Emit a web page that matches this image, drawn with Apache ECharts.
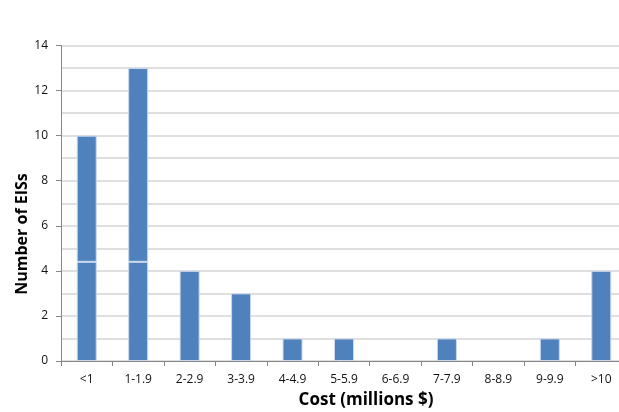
<!DOCTYPE html>
<html>
<head>
<meta charset="utf-8">
<script src="https://cdn.jsdelivr.net/npm/echarts@6/dist/echarts.min.js"></script>
<style>
  html, body { margin: 0; padding: 0; background: #fff; }
  #chart { width: 619px; height: 412px; }
</style>
</head>
<body>
<div id="chart"></div>
<script>
// Cost bins of the environmental impact statements
const costBins = ['<1', '1-1.9', '2-2.9', '3-3.9', '4-4.9', '5-5.9', '6-6.9', '7-7.9', '8-8.9', '9-9.9', '>10'];
// Number of EISs in each cost bin
const eisCounts = [10, 13, 4, 3, 1, 1, 0, 1, 0, 1, 4];
// Height where the two tallest bars show a segment seam
const seamLevel = 4.4;
// Value-axis range and label step
const yMin = 0;
const yMax = 14;
const yStep = 2;

// Empty segments are left out so they draw nothing
const lowerPart = eisCounts.map(v => (v > 0 ? Math.min(v, seamLevel) : null));
const upperPart = eisCounts.map(v => (v > seamLevel ? v - seamLevel : null));

const FONT = 'Open Sans';
const barStyle = { color: '#4F81BD', borderColor: '#c9d8ec', borderWidth: 1 };
const gridLine = { color: '#d4d4d4', width: 1.5 };

const chart = echarts.init(document.getElementById('chart'), null, { renderer: 'canvas' });
chart.setOption({
  animation: false,
  grid: { left: 61, top: 45.5, width: 566, height: 315.5, containLabel: false, outerBoundsMode: 'none' },
  xAxis: {
    type: 'category',
    data: costBins,
    axisLine: { lineStyle: { color: '#868686', width: 1 } },
    axisTick: { show: true, alignWithLabel: false, length: 5, lineStyle: { color: '#868686' } },
    axisLabel: { color: '#111', fontFamily: FONT, fontSize: 12, margin: 13 },
    splitLine: { show: false }
  },
  yAxis: {
    type: 'value',
    min: yMin,
    max: yMax,
    interval: yStep,
    axisLine: { show: true, lineStyle: { color: '#868686', width: 1 } },
    axisTick: { show: true, length: 5, lineStyle: { color: '#868686' } },
    minorTick: { show: false, splitNumber: 2 },
    axisLabel: { color: '#111', fontFamily: FONT, fontSize: 12, margin: 13 },
    splitLine: { show: true, lineStyle: gridLine },
    minorSplitLine: { show: true, lineStyle: gridLine }
  },
  series: [
    {
      type: 'bar', stack: 'eis', data: lowerPart, barWidth: 20,
      itemStyle: barStyle, silent: true
    },
    {
      type: 'bar', stack: 'eis', data: upperPart, barWidth: 20,
      itemStyle: barStyle, silent: true
    }
  ],
  graphic: [
    {
      type: 'text', x: 366, y: 400,
      style: { text: 'Cost (millions $)', fontFamily: FONT, fontWeight: 'bold', fontSize: 17,
        fill: '#000', align: 'center', verticalAlign: 'middle' }
    },
    {
      type: 'text', x: 22, y: 234, rotation: Math.PI / 2,
      style: { text: 'Number of EISs', fontFamily: FONT, fontWeight: 'bold', fontSize: 16,
        fill: '#000', align: 'center', verticalAlign: 'middle' }
    }
  ]
});
</script>
</body>
</html>
